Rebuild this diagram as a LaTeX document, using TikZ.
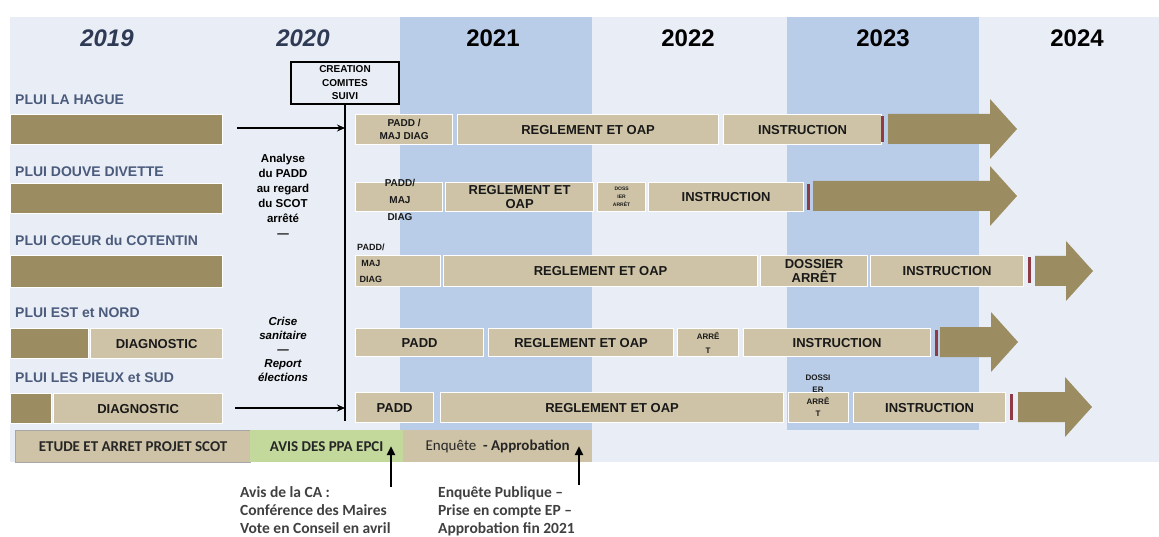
\documentclass[tikz,border=0pt]{standalone}
\usepackage{fontspec}
\setmainfont{Liberation Sans}
\newfontfamily\calfont{Carlito}
\usepackage{xcolor}
\usetikzlibrary{arrows.meta, positioning}
\definecolor{bgblue}{HTML}{E9EDF5}
\definecolor{colblue}{HTML}{B9CDE9}
\definecolor{tanbar}{HTML}{CEC3A6}
\definecolor{olivebar}{HTML}{9C8C62}
\definecolor{endred}{HTML}{8E3B46}
\definecolor{avisgreen}{HTML}{C3D89B}
\definecolor{yeardark}{HTML}{2F3A55}
\definecolor{rowtext}{HTML}{4B5B7C}

\begin{document}
\begin{tikzpicture}[
    x=1pt, y=-1pt,
    bar/.style={rectangle, draw=white, line width=1.2pt, fill=tanbar, anchor=north west, inner sep=0pt, minimum height=30pt, align=center, text=black!90, font=\bfseries\fontsize{13}{14}\selectfont},
    darkbar/.style={bar, fill=olivebar},
    bartext/.style={inner sep=0pt, align=center, text=black!90, font=\bfseries\fontsize{10}{17}\selectfont},
    rowlbl/.style={anchor=west, inner sep=0pt, text=rowtext, font=\bfseries\fontsize{14}{16}\selectfont},
    yearlbl/.style={inner sep=0pt, font=\bfseries\fontsize{24}{26}\selectfont},
    midtext/.style={inner sep=0pt, align=center, font=\bfseries\fontsize{11.5}{15}\selectfont},
    band/.style={rectangle, anchor=north west, inner sep=0pt, minimum height=32pt, font=\calfont\bfseries\fontsize{15}{17}\selectfont, text=black!85},
    note/.style={anchor=north west, inner sep=0pt, align=left, text=black!75, font=\calfont\bfseries\fontsize{15.5}{18}\selectfont},
    arrow/.style={-{Stealth[length=8pt, width=7pt]}, line width=1.5pt},
    uparrow/.style={-{Triangle[length=9pt, width=8pt]}, line width=2.8pt},
]
    \useasboundingbox (0,0) rectangle (1159,537);

    % background and year columns
    \fill[bgblue] (10,17) rectangle (1159,462);
    \fill[colblue] (400,17) rectangle (592,430);
    \fill[colblue] (787,17) rectangle (979,430);

    % years
    \node[yearlbl, text=yeardark, font=\bfseries\itshape\fontsize{24}{26}\selectfont] (y2019) at (107,38) {2019};
    \node[yearlbl, text=yeardark, font=\bfseries\itshape\fontsize{24}{26}\selectfont] (y2020) at (303,38) {2020};
    \foreach \yr/\xc in {2021/493, 2022/688, 2023/883, 2024/1077}
        \node[yearlbl] (y\yr) at (\xc,38) {\yr};

    % row labels
    \node[rowlbl] (l1) at (15,100) {PLUI LA HAGUE};
    \node[rowlbl] (l2) at (15,172) {PLUI DOUVE DIVETTE};
    \node[rowlbl] (l3) at (15,240) {PLUI COEUR du COTENTIN};
    \node[rowlbl] (l4) at (15,313) {PLUI EST et NORD};
    \node[rowlbl] (l5) at (15,378) {PLUI LES PIEUX et SUD};

    % 2019 bars
    \node[darkbar, minimum width=212pt] (p1) at (10,114) {};
    \node[darkbar, minimum width=212pt] (p2) at (10,183) {};
    \node[darkbar, minimum width=212pt, minimum height=32pt] (p3) at (10,255) {};
    \node[darkbar, minimum width=78pt] (p4) at (10,328) {};
    \node[bar, minimum width=132pt] (g4) at (90,328) {DIAGNOSTIC};
    \node[darkbar, minimum width=41pt] (p5) at (10,393) {};
    \node[bar, minimum width=169pt] (g5) at (53,393) {DIAGNOSTIC};

    % comites de suivi
    \node[draw, line width=2.2pt, fill=bgblue, minimum width=108pt, minimum height=42pt, inner sep=0pt, align=center,
          font=\bfseries\fontsize{10}{13.5}\selectfont] (comite) at (345,83) {CREATION\\COMITES\\SUIVI};
    \coordinate (vend) at (345,421);
    \draw[line width=1.4pt] (comite.south) -- (vend);
    \coordinate (h1s) at (237,128);
    \coordinate (h5s) at (235,408);
    \draw[arrow] (h1s) -- (h1s -| comite.south);
    \draw[arrow] (h5s) -- (h5s -| comite.south);

    \node[midtext] (analyse) at (283,196) {Analyse\\du PADD\\au regard\\du SCOT\\arrêté\\---};
    \node[midtext, font=\bfseries\itshape\fontsize{11.5}{14}\selectfont] (crise) at (283,349) {Crise\\sanitaire\\---\\Report\\élections};

    % row 1
    \node[bar, minimum width=97pt, font=\bfseries\fontsize{10}{13}\selectfont] (d1a) at (355,114) {PADD /\\MAJ DIAG};
    \node[bar, minimum width=261pt] (d1b) at (457,114) {REGLEMENT ET OAP};
    \node[bar, minimum width=158pt] (d1c) at (723,114) {INSTRUCTION};

    % row 2
    \node[bar, minimum width=87pt, minimum height=29pt] (d2a) at (355,182) {};
    \node[bartext, anchor=north] (t2a) at (400,179) {PADD/\\MAJ\\DIAG};
    \node[bar, minimum width=148pt, minimum height=29pt] (d2b) at (445,182) {REGLEMENT ET\\OAP};
    \node[bar, minimum width=48pt, minimum height=29pt, font=\bfseries\fontsize{5}{8}\selectfont] (d2c) at (597,182) {DOSS\\IER\\ARRÊT};
    \node[bar, minimum width=155pt, minimum height=29pt] (d2d) at (648,182) {INSTRUCTION};

    % row 3
    \node[bar, minimum width=85pt, minimum height=31pt] (d3a) at (355,255) {};
    \node[bartext, anchor=north west, font=\bfseries\fontsize{9}{16}\selectfont] (t3a) at (357,244) {PADD/\\MAJ\\DIAG};
    \node[bar, minimum width=314pt, minimum height=31pt] (d3b) at (443,255) {REGLEMENT ET OAP};
    \node[bar, minimum width=107pt, minimum height=31pt] (d3c) at (760,255) {DOSSIER\\ARRÊT};
    \node[bar, minimum width=153pt, minimum height=31pt] (d3d) at (870,255) {INSTRUCTION};

    % row 4
    \node[bar, minimum width=128pt, minimum height=28pt] (d4a) at (355,328) {PADD};
    \node[bar, minimum width=185pt, minimum height=28pt] (d4b) at (488,328) {REGLEMENT ET OAP};
    \node[bar, minimum width=61pt, minimum height=28pt, font=\bfseries\fontsize{8}{14}\selectfont] (d4c) at (677,328) {ARRÊ\\T};
    \node[bar, minimum width=187pt, minimum height=28pt] (d4d) at (743,328) {INSTRUCTION};

    % row 5
    \node[bar, minimum width=78pt] (d5a) at (355,392) {PADD};
    \node[bar, minimum width=343pt] (d5b) at (440,392) {REGLEMENT ET OAP};
    \node[bar, minimum width=60pt] (d5c) at (788,392) {};
    \node[bartext, anchor=north, font=\bfseries\fontsize{8}{12}\selectfont] (t5c) at (818,375) {DOSSI\\ER\\ARRÊ\\T};
    \node[bar, minimum width=152pt] (d5d) at (853,392) {INSTRUCTION};

    % end marks and big arrows
    \foreach \xm/\yt in {881/116, 807/184, 1028/257, 935/330, 1010/394}
        \fill[endred] (\xm,\yt) rectangle ++(3,26);
    \foreach \xs/\xt/\yc in {888/1017/129, 813/1017/196, 1035/1093/271, 940/1018/342, 1018/1092/407}
        \fill[olivebar] (\xs,\yc-15) -- (\xt-27,\yc-15) -- (\xt-27,\yc-30) -- (\xt,\yc)
            -- (\xt-27,\yc+30) -- (\xt-27,\yc+15) -- (\xs,\yc+15) -- cycle;

    % SCOT band
    \node[band, fill=tanbar, draw=gray!70, line width=1pt, minimum width=235pt] (scot) at (15,430) {ETUDE ET ARRET PROJET SCOT};
    \node[band, fill=avisgreen, minimum width=153pt] (ppa) at (250,430) {AVIS DES PPA EPCI};
    \node[band, fill=tanbar, minimum width=189pt] (enq) at (403,430) {{\mdseries Enquête}\ \ - Approbation};

    \coordinate (ca) at (391,487);
    \coordinate (ep) at (579,485);
    \draw[uparrow] (ca) -- (ca |- ppa.center);
    \draw[uparrow] (ep) -- (ep |- enq.center);

    \node[note] (canote) at (240,486) {Avis de la CA :\\Conférence des Maires\\Vote en Conseil en avril};
    \node[note] (epnote) at (438,486) {Enquête Publique –\\Prise en compte EP –\\Approbation fin 2021};
\end{tikzpicture}
\end{document}
